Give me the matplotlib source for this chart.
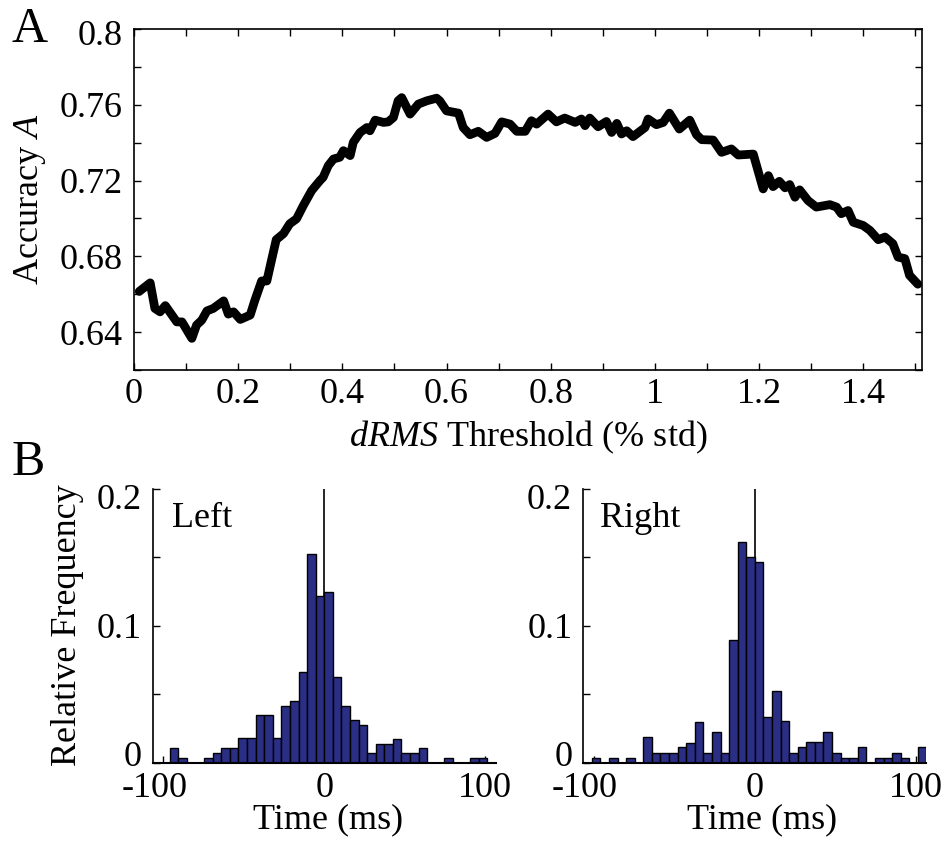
import numpy as np
import matplotlib
matplotlib.use('Agg')
import matplotlib.pyplot as plt
from matplotlib.ticker import MultipleLocator
from matplotlib.transforms import ScaledTranslation

plt.rcParams['font.family'] = ['Liberation Serif', 'DejaVu Serif']
plt.rcParams['mathtext.fontset'] = 'custom'
plt.rcParams['mathtext.rm'] = 'Liberation Serif'
plt.rcParams['mathtext.it'] = 'Liberation Serif:italic'

# panel A: accuracy vs dRMS threshold
threshold = [0.010, 0.031, 0.040, 0.050, 0.060, 0.082, 0.092, 0.111, 0.120, 0.130,
             0.140, 0.152, 0.172, 0.181, 0.191, 0.204, 0.223, 0.232, 0.245, 0.255,
             0.264, 0.273, 0.287, 0.299, 0.312, 0.325, 0.341, 0.357, 0.363, 0.373,
             0.383, 0.395, 0.402, 0.415, 0.421, 0.434, 0.447, 0.453, 0.463, 0.479,
             0.488, 0.498, 0.507, 0.514, 0.530, 0.546, 0.562, 0.581, 0.587, 0.600,
             0.623, 0.632, 0.645, 0.661, 0.677, 0.693, 0.706, 0.722, 0.735, 0.751,
             0.763, 0.773, 0.795, 0.811, 0.827, 0.847, 0.859, 0.866, 0.875, 0.891,
             0.907, 0.917, 0.927, 0.936, 0.946, 0.958, 0.981, 0.987, 1.003, 1.016,
             1.028, 1.047, 1.067, 1.080, 1.090, 1.112, 1.128, 1.147, 1.160, 1.189,
             1.198, 1.208, 1.218, 1.227, 1.239, 1.250, 1.259, 1.269, 1.278, 1.294,
             1.310, 1.336, 1.349, 1.358, 1.371, 1.381, 1.400, 1.413, 1.429, 1.442,
             1.457, 1.467, 1.480, 1.489, 1.505]
accuracy = [0.6615, 0.6660, 0.6525, 0.6507, 0.6540, 0.6454, 0.6454, 0.6367, 0.6437, 0.6463,
            0.6512, 0.6525, 0.6565, 0.6495, 0.6507, 0.6467, 0.6490, 0.6568, 0.6670, 0.6670,
            0.6780, 0.6888, 0.6920, 0.6972, 0.6998, 0.7068, 0.7147, 0.7200, 0.7217, 0.7279,
            0.7314, 0.7323, 0.7358, 0.7332, 0.7402, 0.7454, 0.7480, 0.7463, 0.7519, 0.7507,
            0.7510, 0.7533, 0.7621, 0.7638, 0.7551, 0.7604, 0.7621, 0.7635, 0.7621, 0.7568,
            0.7556, 0.7480, 0.7442, 0.7460, 0.7428, 0.7449, 0.7510, 0.7498, 0.7460, 0.7460,
            0.7516, 0.7498, 0.7551, 0.7510, 0.7530, 0.7507, 0.7525, 0.7490, 0.7530, 0.7484,
            0.7512, 0.7454, 0.7502, 0.7446, 0.7463, 0.7432, 0.7480, 0.7525, 0.7495, 0.7507,
            0.7556, 0.7472, 0.7519, 0.7442, 0.7416, 0.7414, 0.7349, 0.7367, 0.7335, 0.7340,
            0.7253, 0.7156, 0.7226, 0.7168, 0.7196, 0.7162, 0.7179, 0.7112, 0.7151, 0.7095,
            0.7060, 0.7073, 0.7060, 0.7025, 0.7042, 0.6980, 0.6963, 0.6937, 0.6888, 0.6902,
            0.6867, 0.6796, 0.6788, 0.6700, 0.6653]

# panel B: onset timing histograms (40 bins)
time_limit = 106.5
left_freq = [0, 0, 0.0105, 0.0037, 0, 0, 0.0037, 0.0073, 0.0110, 0.0110,
             0.0178, 0.0178, 0.0349, 0.0349, 0.0178, 0.0417, 0.0454, 0.0661, 0.1527, 0.1220,
             0.1246, 0.0624, 0.0417, 0.0312, 0.0276, 0.0068, 0.0137, 0.0137, 0.0176, 0.0068,
             0.0068, 0.0105, 0, 0, 0.0037, 0, 0, 0.0037, 0.0037, 0]
right_freq = [0, 0.0037, 0, 0.0037, 0, 0.0037, 0, 0.0185, 0.0068, 0.0068,
              0.0068, 0.0112, 0.0146, 0.0300, 0.0073, 0.0222, 0.0073, 0.0898, 0.1610, 0.1500,
              0.1466, 0.0337, 0.0527, 0.0305, 0.0073, 0.0112, 0.0149, 0.0149, 0.0227, 0.0073,
              0.0037, 0.0037, 0.0112, 0, 0.0037, 0.0037, 0.0073, 0.0037, 0, 0.0112]

fs = 26
bar_color = '#2b2e85'

fig = plt.figure(figsize=(9.52, 8.44), dpi=100)


def nudge(label, dx_px, dy_px):
    # shift a tick label by a few pixels
    label.set_transform(label.get_transform() +
                        ScaledTranslation(dx_px / 100, dy_px / 100, fig.dpi_scale_trans))


# ---- panel A
ax = fig.add_axes([0.1408, 0.5616, 0.8277, 0.404])
ax.plot(threshold, accuracy, color='black', lw=6.3, solid_joinstyle='round',
        solid_capstyle='round')
ax.set_xlim(0, 1.513)
ax.set_ylim(0.62, 0.80)
ax.set_xticks([0, 0.2, 0.4, 0.6, 0.8, 1.0, 1.2, 1.4])
ax.set_xticklabels(['0', '0.2', '0.4', '0.6', '0.8', '1', '1.2', '1.4'])
ax.set_yticks([0.64, 0.68, 0.72, 0.76, 0.80])
ax.set_yticklabels(['0.64', '0.68', '0.72', '0.76', '0.8'])
ax.xaxis.set_minor_locator(MultipleLocator(0.1))
ax.yaxis.set_minor_locator(MultipleLocator(0.02))
ax.tick_params(which='both', direction='in', top=True, right=True, length=5, width=1)
ax.tick_params(axis='y', labelsize=fs, pad=8)
ax.tick_params(axis='x', labelsize=fs, pad=6)
for s in ax.spines.values():
    s.set_linewidth(1.2)
nudge(ax.get_yticklabels()[-1], 0, -3)

fig.text(0.0315, 0.764, 'Accuracy $A$', rotation=90, ha='center', va='center', fontsize=fs)
fig.text(0.5546, 0.482, '$dRMS$ Threshold (% std)', ha='center', va='center', fontsize=fs)
fig.text(0.0315, 0.9645, 'A', ha='center', va='center', fontsize=36)
fig.text(0.0294, 0.4514, 'B', ha='center', va='center', fontsize=36)

# ---- panel B
edges = np.linspace(-time_limit, time_limit, len(left_freq) + 1)
centers = (edges[:-1] + edges[1:]) / 2
width = edges[1] - edges[0]

for left, freq, name, tx, lx in [(0.1604, left_freq, 'Left', 0.055, 0.3445),
                                 (0.6127, right_freq, 'Right', 0.049, 0.8001)]:
    bx = fig.add_axes([left, 0.0963, 0.3604, 0.3243])
    bx.axvline(0, color='black', lw=1.2, zorder=0)
    bx.bar(centers, freq, width=width, color=bar_color, edgecolor='black',
           linewidth=1.0, zorder=2)
    bx.set_xlim(-time_limit, time_limit)
    bx.set_ylim(0, 0.2)
    bx.set_xticks([-100, 0, 100])
    bx.set_xticklabels(['-100', '0', '100'])
    bx.set_yticks([0, 0.05, 0.1, 0.15, 0.2])
    bx.set_yticklabels(['0', '', '0.1', '', '0.2'])
    bx.tick_params(direction='in', length=5, width=1, labelsize=fs)
    bx.tick_params(axis='y', pad=8)
    bx.tick_params(axis='x', pad=7)
    bx.spines['top'].set_visible(False)
    bx.spines['right'].set_visible(False)
    bx.spines['left'].set_linewidth(1.2)
    bx.spines['bottom'].set_linewidth(1.5)
    ylabs = bx.get_yticklabels()
    nudge(ylabs[0], 0, 9)
    nudge(ylabs[-1], 0, -7)
    nudge(bx.get_xticklabels()[0], -9, 0)
    bx.text(tx, 0.863, name, transform=bx.transAxes, fontsize=fs, va='baseline')
    fig.text(lx, 0.0284, 'Time (ms)', ha='center', va='center', fontsize=fs)

fig.text(0.0714, 0.2595, 'Relative Frequency', rotation=90, ha='center', va='center',
         fontsize=fs)

fig.savefig('out.png', dpi=100)
